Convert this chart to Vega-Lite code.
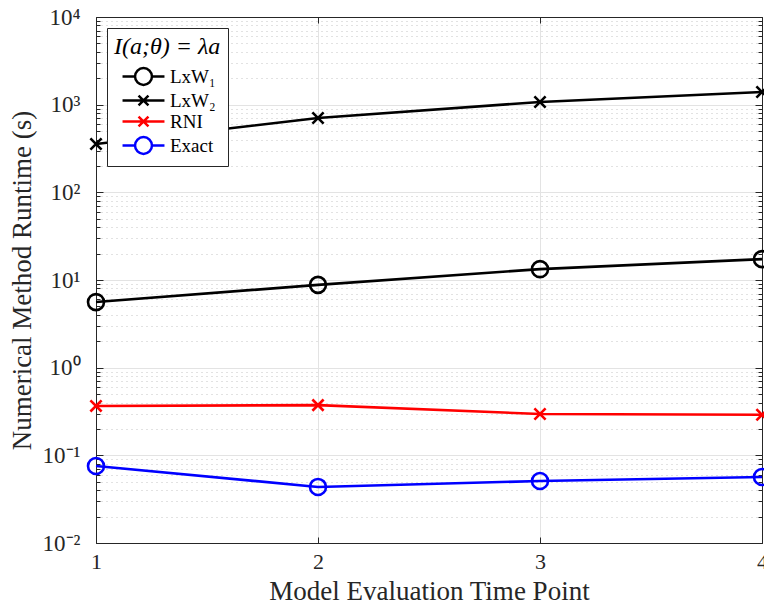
{
  "$schema": "https://vega.github.io/schema/vega-lite/v6.json",
  "width": 666,
  "height": 526,
  "autosize": {"type": "none"},
  "padding": {"left": 96, "top": 17, "right": 2, "bottom": 67},
  "config": {
    "font": "Liberation Serif",
    "view": {"stroke": "#262626", "strokeWidth": 1},
    "axis": {
      "domainColor": "#262626",
      "tickColor": "#262626",
      "labelColor": "#262626",
      "titleColor": "#262626",
      "labelFont": "Liberation Serif",
      "titleFont": "Liberation Serif",
      "titleFontWeight": "normal",
      "labelFontSize": 22,
      "titleFontSize": 27,
      "labelFlush": false
    }
  },
  "data": {
    "values": [
      {"t": 1, "runtime": 5.6, "method": "LxW₁"},
      {"t": 2, "runtime": 8.8, "method": "LxW₁"},
      {"t": 3, "runtime": 13.3, "method": "LxW₁"},
      {"t": 4, "runtime": 17.3, "method": "LxW₁"},
      {"t": 1, "runtime": 356, "method": "LxW₂"},
      {"t": 2, "runtime": 705, "method": "LxW₂"},
      {"t": 3, "runtime": 1072, "method": "LxW₂"},
      {"t": 4, "runtime": 1394, "method": "LxW₂"},
      {"t": 1, "runtime": 0.366, "method": "RNI"},
      {"t": 2, "runtime": 0.374, "method": "RNI"},
      {"t": 3, "runtime": 0.296, "method": "RNI"},
      {"t": 4, "runtime": 0.29, "method": "RNI"},
      {"t": 1, "runtime": 0.0755, "method": "Exact"},
      {"t": 2, "runtime": 0.0436, "method": "Exact"},
      {"t": 3, "runtime": 0.051, "method": "Exact"},
      {"t": 4, "runtime": 0.0566, "method": "Exact"}
    ]
  },
  "layer": [
    {
      "mark": {"type": "line", "strokeWidth": 2.6},
      "encoding": {
        "x": {
          "field": "t", "type": "quantitative",
          "scale": {"domain": [1, 4], "nice": false, "zero": false},
          "axis": {
            "orient": "bottom", "values": [1, 2, 3, 4], "format": "d",
            "grid": true, "gridColor": "#e3e3e3", "gridWidth": 1,
            "tickSize": -6, "labelPadding": 14,
            "title": "Model Evaluation Time Point", "titlePadding": 6
          }
        },
        "y": {
          "field": "runtime", "type": "quantitative",
          "scale": {"type": "log", "domain": [0.01, 10000], "nice": false},
          "axis": {
            "orient": "left",
            "values": [0.01, 0.02, 0.03, 0.04, 0.05, 0.06, 0.07, 0.08, 0.09, 0.1, 0.2, 0.3, 0.4, 0.5, 0.6, 0.7, 0.8, 0.9, 1, 2, 3, 4, 5, 6, 7, 8, 9, 10, 20, 30, 40, 50, 60, 70, 80, 90, 100, 200, 300, 400, 500, 600, 700, 800, 900, 1000, 2000, 3000, 4000, 5000, 6000, 7000, 8000, 9000, 10000],
            "labelExpr": "abs(log(datum.value)/LN10 - round(log(datum.value)/LN10)) < 0.001 ? ['10⁻²','10⁻¹','10⁰','10¹','10²','10³','10⁴'][round(log(datum.value)/LN10)+2] : ''",
            "labelOverlap": false,
            "labelFontSize": 23,
            "grid": true,
            "gridColor": {"condition": {"test": "abs(log(datum.value)/LN10 - round(log(datum.value)/LN10)) < 0.001", "value": "#e3e3e3"}, "value": "#c4c4c4"},
            "gridDash": {"condition": {"test": "abs(log(datum.value)/LN10 - round(log(datum.value)/LN10)) < 0.001", "value": []}, "value": [1, 4]},
            "tickSize": {"condition": {"test": "abs(log(datum.value)/LN10 - round(log(datum.value)/LN10)) < 0.001", "value": -7}, "value": -4},
            "labelPadding": 23,
            "title": "Numerical Method Runtime (s)", "titlePadding": 6
          }
        },
        "color": {
          "field": "method", "type": "nominal",
          "scale": {"domain": ["LxW₁", "LxW₂", "RNI", "Exact"], "range": ["#000000", "#000000", "#ff0000", "#0000ff"]},
          "legend": {
            "orient": "top-left", "offset": 11,
            "title": "I(a;θ) = λa",
            "titleFont": "Liberation Serif", "titleFontStyle": "italic", "titleFontWeight": "normal", "titleFontSize": 24, "titleColor": "#000000",
            "titlePadding": 7,
            "labelFont": "Liberation Serif", "labelFontSize": 19, "labelColor": "#000000", "labelOffset": 16,
            "strokeColor": "#262626", "fillColor": "#ffffff", "padding": 7,
            "symbolSize": 324, "symbolStrokeWidth": 2.5, "symbolOffset": 19, "rowPadding": 0,
            "encode": {
              "symbols": {
                "update": {
                  "shape": {"signal": "(datum.value === 'LxW₂' || datum.value === 'RNI') ? 'M-2.33,0L2.33,0M-0.55,-0.55L0.55,0.55M-0.55,0.55L0.55,-0.55' : 'M-2.33,0L-0.94,0M0.94,0L2.33,0M-0.94,0A0.94,0.94,0,1,0,0.94,0A0.94,0.94,0,1,0,-0.94,0Z'"},
                  "size": {"value": 324},
                  "strokeWidth": {"value": 2.5},
                  "fill": {"value": "transparent"},
                  "opacity": {"value": 1}
                }
              }
            }
          }
        }
      }
    },
    {
      "transform": [{"filter": "datum.method === 'LxW₁' || datum.method === 'Exact'"}],
      "mark": {"type": "point", "shape": "circle", "filled": false, "size": 256, "strokeWidth": 2.6, "opacity": 1},
      "encoding": {
        "x": {
          "field": "t", "type": "quantitative",
          "scale": {"domain": [1, 4], "nice": false, "zero": false},
          "axis": {"orient": "top", "values": [1, 2, 3, 4], "labels": false, "grid": false, "tickSize": -6, "title": null}
        },
        "y": {
          "field": "runtime", "type": "quantitative",
          "scale": {"type": "log", "domain": [0.01, 10000], "nice": false},
          "axis": {
            "orient": "right",
            "values": [0.01, 0.02, 0.03, 0.04, 0.05, 0.06, 0.07, 0.08, 0.09, 0.1, 0.2, 0.3, 0.4, 0.5, 0.6, 0.7, 0.8, 0.9, 1, 2, 3, 4, 5, 6, 7, 8, 9, 10, 20, 30, 40, 50, 60, 70, 80, 90, 100, 200, 300, 400, 500, 600, 700, 800, 900, 1000, 2000, 3000, 4000, 5000, 6000, 7000, 8000, 9000, 10000],
            "labels": false, "grid": false, "title": null,
            "tickSize": {"condition": {"test": "abs(log(datum.value)/LN10 - round(log(datum.value)/LN10)) < 0.001", "value": -7}, "value": -4}
          }
        },
        "color": {"field": "method", "type": "nominal"}
      }
    },
    {
      "transform": [{"filter": "datum.method === 'LxW₂' || datum.method === 'RNI'"}],
      "mark": {"type": "point", "shape": "M-0.7,-0.7L0.7,0.7M-0.7,0.7L0.7,-0.7", "filled": false, "size": 256, "strokeWidth": 2.6, "opacity": 1},
      "encoding": {
        "x": {"field": "t", "type": "quantitative", "scale": {"domain": [1, 4], "nice": false, "zero": false}, "axis": null},
        "y": {"field": "runtime", "type": "quantitative", "scale": {"type": "log", "domain": [0.01, 10000], "nice": false}, "axis": null},
        "color": {"field": "method", "type": "nominal"}
      }
    }
  ],
  "resolve": {"axis": {"x": "independent", "y": "independent"}}
}
